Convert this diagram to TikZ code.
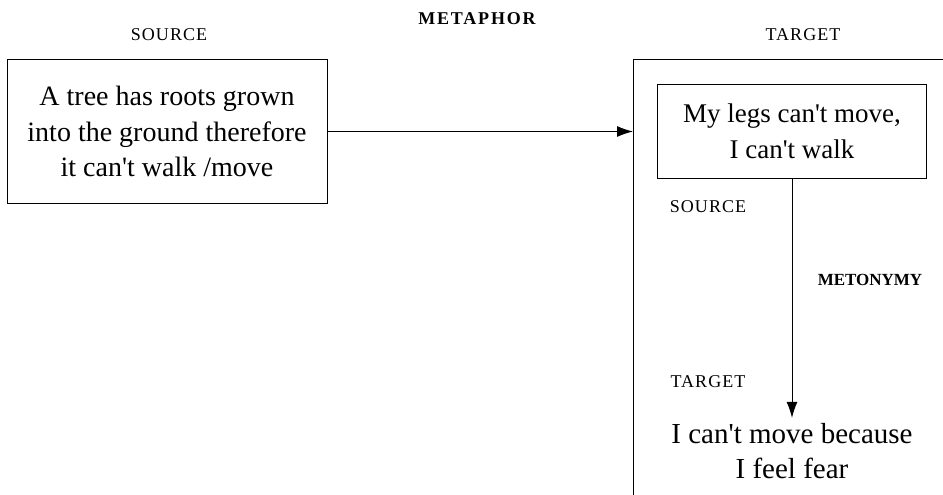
\documentclass[tikz,border=0pt]{standalone}
\usepackage{fontspec}
\setmainfont{Liberation Serif}[Ligatures=TeXOff]
\usetikzlibrary{positioning, arrows.meta}

\tikzset{
    boxtext/.style={rectangle, draw, line width=1pt, align=center, inner sep=0pt, font=\fontsize{28}{35.5}\selectfont},
    plaintext/.style={align=center, inner xsep=0pt, inner ysep=5pt, font=\fontsize{29}{35.5}\selectfont},
    smallcap/.style={font=\fontsize{18}{20}\selectfont\addfontfeature{LetterSpace=6}},
    boldcap/.style={font=\fontsize{17}{20}\selectfont\bfseries},
    link/.style={-{Latex[length=16pt, width=11pt]}, line width=1pt}
}

\begin{document}
\begin{tikzpicture}[x=1pt, y=-1pt]
    \useasboundingbox (0,0) rectangle (943,495);

    \node[smallcap] (metsrc) at (169, 35) {SOURCE};
    \node[boldcap, font=\fontsize{18}{20}\selectfont\bfseries\addfontfeature{LetterSpace=10}] (metaphor) at (477, 19) {METAPHOR};
    \node[smallcap] (mettgt) at (803, 35) {TARGET};

    \node[boxtext, minimum width=320pt, minimum height=143pt] (tree) at (167, 131.5) {A tree has roots grown\\into the ground therefore\\it can't walk /move};

    \draw[line width=1pt] (943, 60) -- (633, 60) -- (633, 495);
    \coordinate (frame) at (633, 131.5);

    \node[boxtext, minimum width=269pt, minimum height=93pt, font=\fontsize{27}{35.5}\selectfont] (legs) at (792, 131.5) {My legs can't move,\\I can't walk};
    \node[smallcap] (mtnsrc) at (708, 207) {SOURCE};
    \node[boldcap] (metonymy) at (870, 280) {METONYMY};
    \node[smallcap] (mtntgt) at (708, 382) {TARGET};
    \node[plaintext] (fear) at (792, 451) {I can't move because\\I feel fear};

    \draw[link] (tree) -- (frame);
    \draw[link] (legs) -- (fear);
\end{tikzpicture}
\end{document}
